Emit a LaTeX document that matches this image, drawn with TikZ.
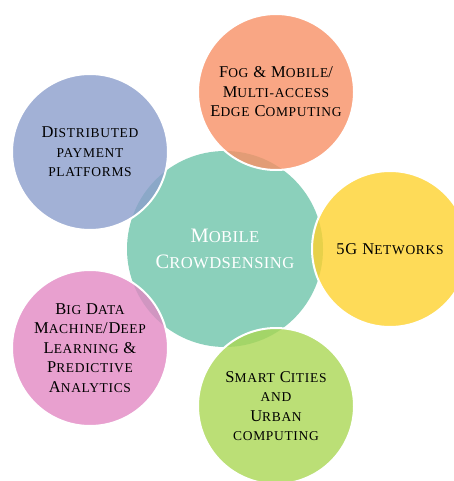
\documentclass[tikz,border=0pt]{standalone}
\usepackage{fontspec}
\setmainfont{Liberation Serif}
\newfontfamily\satfont{Liberation Serif}[LetterSpace=5]
\newfontfamily\hubfont{Liberation Serif}[LetterSpace=2.5]
\newcommand\lc[1]{{\fontsize{13.5}{19}\selectfont #1}}
\newcommand\lcc[1]{{\fontsize{16.6}{25}\selectfont #1}}
\definecolor{hubcol}{RGB}{139,208,187}
\definecolor{bluecol}{RGB}{139,158,204}
\definecolor{orangecol}{RGB}{248,144,101}
\definecolor{yellowcol}{RGB}{254,210,46}
\definecolor{pinkcol}{RGB}{226,136,195}
\definecolor{greencol}{RGB}{170,215,84}
\tikzset{
  sat/.style={circle, minimum size=156pt, inner sep=0pt, fill opacity=0.8,
    text opacity=1, draw=white, draw opacity=1, line width=2pt, align=center,
    text=black, font=\satfont\fontsize{16.5}{19.5}\selectfont},
  hubnode/.style={circle, minimum size=196pt, inner sep=0pt, fill=hubcol,
    align=center, text=white, font=\hubfont\fontsize{20.5}{25.5}\selectfont}
}
\begin{document}
\begin{tikzpicture}[x=1pt,y=-1pt]
\useasboundingbox (0,0) rectangle (454,481);
\clip (0,0) rectangle (454,481);
\node[hubnode] (hub) at (225,249) {M\lcc{OBILE}\\C\lcc{ROWDSENSING}};
\node[sat, fill=bluecol] (pay) at (90,152) {D\lc{ISTRIBUTED}\\\lc{PAYMENT}\\\lc{PLATFORMS}};
\node[sat, fill=orangecol] (fog) at (276,92) {F\lc{OG} \& M\lc{OBILE}/\\M\lc{ULTI-ACCESS}\\E\lc{DGE} C\lc{OMPUTING}};
\node[sat, fill=yellowcol] (fiveg) at (390,249) {5G N\lc{ETWORKS}};
\node[sat, fill=pinkcol] (big) at (90,348) {B\lc{IG} D\lc{ATA}\\M\lc{ACHINE}/D\lc{EEP}\\L\lc{EARNING} \&\\P\lc{REDICTIVE}\\A\lc{NALYTICS}};
\node[sat, fill=greencol] (smart) at (276,406) {S\lc{MART} C\lc{ITIES}\\\lc{AND}\\U\lc{RBAN}\\\lc{COMPUTING}};
\end{tikzpicture}
\end{document}
